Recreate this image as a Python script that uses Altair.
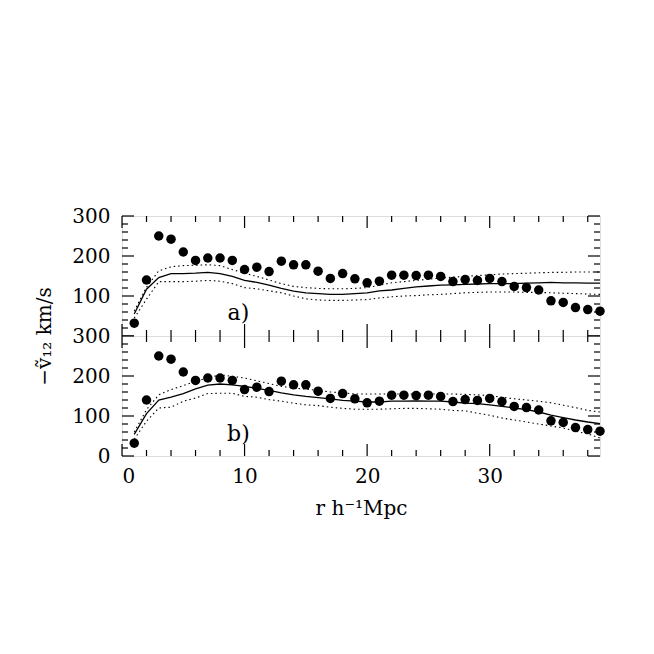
import altair as alt
import pandas as pd

# ---------------- data ----------------
r = list(range(1, 40))
observed = [32, 140, 250, 242, 210, 189, 195, 195, 189, 166, 172, 161, 187, 178, 178,
            162, 144, 156, 143, 133, 137, 152, 152, 151, 152, 149, 136, 141, 139, 144,
            136, 124, 121, 115, 88, 84, 71, 66, 62]

model_a = [55, 117, 146, 156, 156, 157, 159, 156, 149, 139, 134, 127, 119, 112, 108,
           106, 104, 104, 106, 108, 113, 115, 119, 123, 125, 127, 128, 129, 130, 131,
           131, 131, 132, 133, 134, 133, 133, 132, 132]
upper_a = [62, 122, 163, 173, 176, 177, 178, 176, 166, 157, 149, 140, 131, 124, 121,
           119, 118, 118, 119, 121, 127, 133, 136, 139, 142, 145, 147, 149, 151, 153,
           155, 156, 157, 158, 159, 159, 160, 160, 160]
lower_a = [45, 92, 136, 136, 136, 137, 139, 137, 131, 121, 118, 113, 108, 100, 93,
           90, 89, 89, 90, 91, 95, 98, 100, 101, 103, 104, 106, 108, 109, 110,
           110, 110, 109, 109, 108, 107, 106, 105, 104]

model_b = [54, 106, 140, 147, 156, 168, 177, 180, 178, 174, 169, 164, 158, 153, 149,
           146, 143, 139, 137, 135, 135, 137, 137, 138, 137, 137, 135, 132, 131, 128,
           124, 120, 116, 110, 102, 96, 90, 85, 81]
upper_b = [60, 116, 153, 166, 176, 187, 195, 203, 199, 195, 188, 181, 174, 170, 167,
           164, 160, 158, 155, 155, 155, 155, 155, 155, 155, 155, 155, 154, 153, 151,
           147, 143, 140, 137, 133, 127, 121, 114, 110]
lower_b = [42, 87, 120, 122, 137, 145, 156, 157, 157, 149, 147, 141, 137, 132, 128,
           126, 122, 119, 117, 117, 117, 118, 119, 119, 118, 117, 114, 113, 107, 102,
           95, 90, 85, 80, 75, 70, 62, 55, 45]

panel_labels = ["a)", "b)"]
label_r = [9.5, 9.5]
label_v = [58, 56]

x_major = [0, 10, 20, 30]
x_minor = [2, 4, 6, 8, 12, 14, 16, 18, 22, 24, 26, 28, 32, 34, 36, 38]
y_major = [0, 100, 200, 300]
y_minor = [20, 40, 60, 80, 120, 140, 160, 180, 220, 240, 260, 280]

# ---------------- style ----------------
FONT = "DejaVu Serif"
W, H = 478, 120
MAJ, MIN = 12, 6
xscale = alt.Scale(domain=[0, 39], nice=False, zero=False)
yscale = alt.Scale(domain=[0, 300], nice=False, zero=False)


def panel(model, upper, lower, idx, bottom):
    df = pd.DataFrame({"r": r, "obs": observed, "model": model,
                       "upper": upper, "lower": lower})
    if bottom:
        xaxis = alt.Axis(values=x_major, ticks=False, domain=False, grid=False,
                         labelFont=FONT, labelFontSize=20, labelPadding=10,
                         labelColor="black", title="r h\u207b\u00b9Mpc",
                         titleFont=FONT, titleFontSize=20, titleFontWeight="normal",
                         titleColor="black", titlePadding=12)
        yaxis = alt.Axis(values=[0, 100, 200, 300], ticks=False, domain=False,
                         grid=False, labelFont=FONT, labelFontSize=20,
                         labelPadding=12, labelColor="black", title=None)
    else:
        xaxis = None
        yaxis = alt.Axis(values=[100, 200, 300], ticks=False, domain=False,
                         grid=False, labelFont=FONT, labelFontSize=20,
                         labelPadding=12, labelColor="black",
                         title="\u2212v\u0303\u2081\u2082 km/s", titleFont=FONT,
                         titleFontSize=20, titleFontWeight="normal",
                         titleColor="black", titleY=H, titleX=-78,
                         titleBaseline="middle", titleAngle=270)

    base = alt.Chart(df)
    X = alt.X("r:Q", scale=xscale, axis=xaxis)

    layers = []
    for fld in ["upper", "lower"]:
        layers.append(base.mark_line(color="black", strokeWidth=1.1,
                                     strokeDash=[1.5, 3]).encode(
            x=X, y=alt.Y(f"{fld}:Q", scale=yscale, axis=yaxis)))
    layers.append(base.mark_line(color="black", strokeWidth=1.3).encode(
        x=X, y=alt.Y("model:Q", scale=yscale, axis=yaxis)))
    layers.append(base.mark_circle(color="black", opacity=1, size=90).encode(
        x=X, y=alt.Y("obs:Q", scale=yscale, axis=yaxis)))

    lab = pd.DataFrame({"r": [label_r[idx]], "v": [label_v[idx]],
                        "t": [panel_labels[idx]]})
    layers.append(alt.Chart(lab).mark_text(font=FONT, fontSize=22, color="black",
                                           align="center", baseline="middle").encode(
        x=X, y=alt.Y("v:Q", scale=yscale, axis=yaxis), text="t:N"))

    # inward ticks
    for vals, ln in [(x_major, MAJ), (x_minor, MIN)]:
        tdf = pd.DataFrame({"r": vals})
        tx = alt.X("r:Q", scale=xscale, axis=xaxis)
        layers.append(alt.Chart(tdf).mark_rule(color="black", strokeWidth=1.2).encode(
            x=tx, y=alt.value(0), y2=alt.value(ln)))
        layers.append(alt.Chart(tdf).mark_rule(color="black", strokeWidth=1.2).encode(
            x=tx, y=alt.value(H), y2=alt.value(H - ln)))
    for vals, ln in [(y_major, MAJ), (y_minor, MIN)]:
        tdf = pd.DataFrame({"v": vals})
        ty = alt.Y("v:Q", scale=yscale, axis=yaxis)
        layers.append(alt.Chart(tdf).mark_rule(color="black", strokeWidth=1.2).encode(
            y=ty, x=alt.value(0), x2=alt.value(ln)))
        layers.append(alt.Chart(tdf).mark_rule(color="black", strokeWidth=1.2).encode(
            y=ty, x=alt.value(W), x2=alt.value(W - ln)))

    return alt.layer(*layers).properties(width=W, height=H)


top = panel(model_a, upper_a, lower_a, 0, False)
bot = panel(model_b, upper_b, lower_b, 1, True)

chart = alt.vconcat(top, bot, spacing=0, bounds="flush").properties(
    padding={"left": 25, "top": 197, "right": 5, "bottom": 5}
).configure_view(stroke="black", strokeWidth=1.3).configure(background="white")

chart.save("out.html", embed_options={"renderer": "svg", "actions": False})
